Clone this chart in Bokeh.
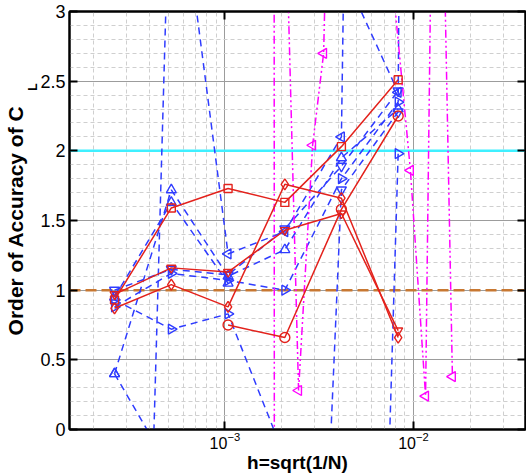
from math import pi
from bokeh.plotting import figure
from bokeh.models import (Range1d, LogAxis, LinearAxis, FixedTicker,
                          SingleIntervalTicker, Span, Title,
                          CustomJSTickFormatter)
from bokeh.embed import file_html
from bokeh.resources import INLINE

NaN = float("nan")

# mesh size h = sqrt(1/N) of the refinement levels
h = [2.6e-4, 5.2e-4, 1.04e-3, 2.08e-3, 4.15e-3, 8.3e-3, 1.66e-2]

# red solid series
red_square = [0.93, 1.59, 1.73, 1.63, 2.03, 2.51]
red_circle = [NaN, NaN, 0.75, 0.66, 1.58, 2.25]
red_diamond = [0.87, 1.04, 0.88, 1.76, 1.66, 0.66]
red_triangle = [0.97, 1.16, 1.13, 1.43, 1.55, 0.71]

# blue dashed series
blue_1 = [1.00, 1.15, 1.11, 1.44, 1.89, 2.43]
blue_2 = [0.88, 1.12, 1.07, 1.00, 1.80, 2.35, 60.0]
blue_3 = [0.40, 1.72, 1.10, 1.29, 1.95, 2.30]
blue_4 = [-10.0, 4.40, 1.26, 1.42, 2.10, 30.0]
blue_5 = [0.93, 0.72, 0.83, -0.20]
blue_6 = [0.40, -0.30]
blue_7 = [NaN, NaN, NaN, -7.7, 1.72, 2.28]
blue_8 = [NaN, NaN, NaN, NaN, -11.5, 1.98]
blue_9 = [NaN, NaN, NaN, NaN, 3.31, 2.42]
blue_10 = [0.95, 1.63, 1.05]

# magenta dash-dot series (own h values)
mag_a_h = [1.78e-3, 1.88e-3]
mag_a = [50.0, -50.0]
mag_b_h = [2.07e-3, 2.46e-3, 2.92e-3, 3.34e-3, 4.15e-3]
mag_b = [4.1, 0.28, 2.04, 2.70, 8.1]
mag_c_h = [4.15e-3, 9.64e-3, 1.16e-2, 1.32e-2, 1.61e-2]
mag_c = [7.1, 1.86, 0.24, 6.4, 0.38]

x_ticks = [1e-4, 1e-3, 1e-2, 1e-1]
x_minor = [k * t for t in x_ticks for k in range(2, 10)]
y_labels = {0: "0", 0.5: "0.5", 1: "1", 1.5: "1.5", 2: "2", 2.5: "2.5", 3: "3"}

FONT = "Liberation Sans"
RED = "#e3221c"
BLUE = "#2f3cff"
MAG = "#ff00ff"

p = figure(width=526, height=475, x_axis_type="log",
           x_range=Range1d(1.5e-4, 3.93e-2), y_range=Range1d(0, 3),
           output_backend="svg", toolbar_location=None,
           min_border_left=69, min_border_right=1, min_border_top=11,
           min_border_bottom=44)
p.background_fill_color = "white"
p.border_fill_color = "white"
p.outline_line_color = "black"
p.outline_line_width = 2

bottom = p.xaxis[0]
left = p.yaxis[0]

xt = FixedTicker(ticks=x_ticks, minor_ticks=x_minor)
yt = SingleIntervalTicker(interval=0.5, num_minor_ticks=5)
bottom.ticker = xt
left.ticker = yt
p.xgrid.ticker = xt
p.ygrid.ticker = yt
for g in (p.xgrid, p.ygrid):
    g.grid_line_color = "#9c9c9c"
    g.grid_line_width = 1
    g.minor_grid_line_color = "#cfcfcf"
    g.minor_grid_line_dash = "4 3"
    g.minor_grid_line_width = 1

blank = CustomJSTickFormatter(code="return ''")
top = LogAxis(ticker=xt, formatter=blank, major_label_standoff=0)
right = LinearAxis(ticker=yt, formatter=blank, major_label_standoff=0)
p.add_layout(top, "above")
p.add_layout(right, "right")

for ax in (bottom, left, top, right):
    ax.axis_line_width = 2
    ax.axis_line_color = "black"
    ax.major_tick_in = 8
    ax.major_tick_out = 0
    ax.major_tick_line_width = 2
    ax.major_tick_line_color = "black"
    ax.minor_tick_in = 0
    ax.minor_tick_out = 0
    ax.major_label_text_font = FONT
    ax.major_label_text_color = "black"

left.major_label_overrides = y_labels
left.major_label_text_font_size = "18px"
left.major_label_standoff = 4
bottom.major_label_text_font_size = "16px"
bottom.major_label_standoff = 2

bottom.axis_label = "h=sqrt(1/N)"
bottom.axis_label_text_font = FONT
bottom.axis_label_text_font_style = "bold"
bottom.axis_label_text_font_size = "19px"
bottom.axis_label_text_color = "black"
bottom.axis_label_standoff = 0

# y-axis title "Order of Accuracy of C_L" (subscript L as its own title)
p.add_layout(Title(text="L", align="right", offset=72, standoff=-5,
                   text_font=FONT, text_font_style="bold",
                   text_font_size="12px", text_color="black"), "left")
p.add_layout(Title(text="Order of Accuracy of C", align="center", standoff=0,
                   text_font=FONT, text_font_style="bold",
                   text_font_size="21px", text_color="black"), "left")

# reference lines
p.add_layout(Span(location=2, dimension="width", line_color="#3ff0ff",
                  line_width=2.5, level="underlay"))
p.add_layout(Span(location=1, dimension="width", line_color="#c87832",
                  line_width=2.5, line_dash="11 5", level="underlay"))

LEFT = pi / 2
RIGHT = -pi / 2


def series(xs, ys, color, dash, marker, angle, size):
    n = len(ys)
    p.line(xs[:n], ys, line_color=color, line_width=1.5, line_dash=dash)
    p.scatter(xs[:n], ys, marker=marker, angle=angle, size=size,
              line_color=color, fill_color=None, line_width=1.4)


# blue
series(h, blue_1, BLUE, "7 5", "inverted_triangle", 0, 10)
series(h, blue_2, BLUE, "7 5", "triangle", RIGHT, 10)
series(h, blue_3, BLUE, "7 5", "triangle", 0, 10)
series(h, blue_4, BLUE, "7 5", "triangle", LEFT, 10)
series(h, blue_5, BLUE, "7 5", "triangle", RIGHT, 10)
series(h, blue_6, BLUE, "7 5", "triangle", 0, 10)
series(h, blue_7, BLUE, "7 5", "inverted_triangle", 0, 10)
series(h, blue_8, BLUE, "7 5", "triangle", RIGHT, 10)
series(h, blue_9, BLUE, "7 5", "triangle", LEFT, 10)
series(h, blue_10, BLUE, "7 5", "triangle", 0, 10)

# magenta
series(mag_a_h, mag_a, MAG, "8 3 2 3 2 3", "triangle", LEFT, 10)
series(mag_b_h, mag_b, MAG, "8 3 2 3 2 3", "triangle", LEFT, 10)
series(mag_c_h, mag_c, MAG, "8 3 2 3 2 3", "triangle", LEFT, 10)

# red
series(h, red_square, RED, "solid", "square", 0, 8)
series(h, red_circle, RED, "solid", "circle", 0, 10)
series(h, red_diamond, RED, "solid", "diamond", 0, 11)
series(h, red_triangle, RED, "solid", "inverted_triangle", 0, 9)

open("out.html", "w").write(file_html(p, INLINE))
